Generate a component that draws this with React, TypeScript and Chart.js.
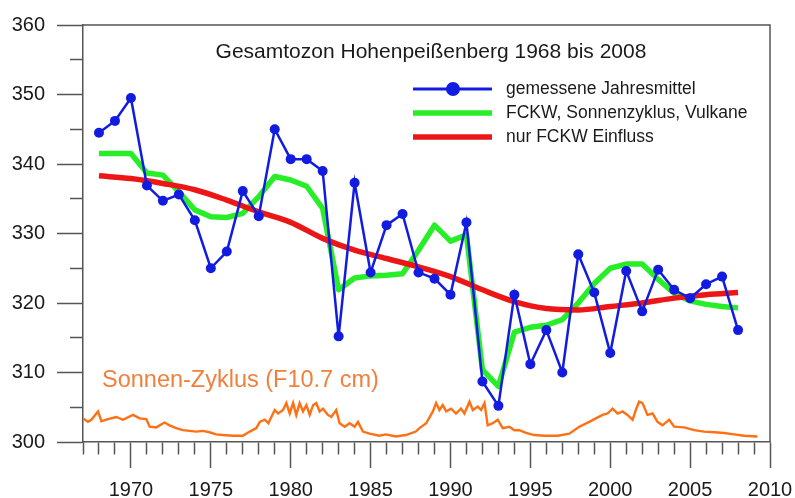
import React, { useEffect, useRef } from 'react';
import { Chart, registerables } from 'chart.js';

Chart.register(...registerables);

// ---- data ----
const years = [
  1968, 1969, 1970, 1971, 1972, 1973, 1974, 1975, 1976, 1977,
  1978, 1979, 1980, 1981, 1982, 1983, 1984, 1985, 1986, 1987,
  1988, 1989, 1990, 1991, 1992, 1993, 1994, 1995, 1996, 1997,
  1998, 1999, 2000, 2001, 2002, 2003, 2004, 2005, 2006, 2007, 2008,
];
const measured = [
  344.5, 346.2, 349.5, 336.9, 334.7, 335.6, 331.9, 325.0, 327.4, 336.1,
  332.5, 345.0, 340.7, 340.7, 339.0, 315.2, 337.3, 324.4, 331.2, 332.8,
  324.4, 323.5, 321.2, 331.6, 308.7, 305.2, 321.2, 311.2, 316.1, 310.0,
  327.0, 321.5, 312.8, 324.6, 318.8, 324.8, 321.9, 320.7, 322.7, 323.8, 316.1,
];
const modelFull = [
  341.5, 341.5, 341.5, 338.7, 338.4, 336.0, 333.4, 332.4, 332.3, 332.9,
  335.3, 338.2, 337.7, 336.8, 333.6, 321.9, 323.6, 323.9, 324.0, 324.2,
  327.6, 331.2, 328.9, 329.8, 310.4, 308.0, 315.8, 316.5, 316.8, 317.6,
  320.0, 322.8, 325.0, 325.6, 325.6, 323.4, 321.4, 320.3, 319.8, 319.5, 319.3,
];
const fckwYears = [
  1968, 1970, 1972, 1974, 1976, 1978, 1980, 1982, 1984, 1986, 1988,
  1990, 1992, 1994, 1996, 1998, 2000, 2002, 2004, 2006, 2008,
];
const fckwOnly = [
  338.3, 337.9, 337.2, 336.3, 334.8, 333.1, 331.6, 329.3, 327.6, 326.4, 325.2,
  323.8, 321.9, 320.2, 319.2, 319.0, 319.5, 320.0, 320.7, 321.2, 321.5,
];
const solarYears = [
  1967.0, 1967.31, 1967.52, 1967.94, 1968.15, 1968.56, 1969.08, 1969.5, 1970.13, 1970.54,
  1970.96, 1971.17, 1971.58, 1972.1, 1972.42, 1972.83, 1973.25, 1973.67, 1974.08, 1974.5,
  1974.92, 1975.33, 1975.75, 1976.38, 1977.0, 1977.44, 1977.85, 1978.06, 1978.38, 1978.6,
  1979.0, 1979.21, 1979.52, 1979.73, 1979.94, 1980.15, 1980.35, 1980.56, 1980.77, 1980.98,
  1981.19, 1981.4, 1981.6, 1981.81, 1982.02, 1982.33, 1982.54, 1982.85, 1983.06, 1983.38,
  1983.69, 1984.0, 1984.21, 1984.52, 1984.94, 1985.54, 1985.96, 1986.58, 1987.21, 1987.83,
  1988.06, 1988.48, 1988.9, 1989.1, 1989.31, 1989.52, 1989.73, 1990.04, 1990.35, 1990.66,
  1990.87, 1991.19, 1991.4, 1991.71, 1991.92, 1992.13, 1992.33, 1992.65, 1992.96, 1993.27,
  1993.69, 1994.0, 1994.31, 1994.73, 1995.25, 1995.88, 1996.71, 1997.44, 1998.06, 1998.69,
  1999.1, 1999.52, 1999.83, 2000.15, 2000.46, 2000.77, 2001.08, 2001.4, 2001.6, 2001.81,
  2002.02, 2002.33, 2002.65, 2002.96, 2003.27, 2003.69, 2004.0, 2004.63, 2005.25, 2005.88,
  2006.5, 2007.13, 2007.75, 2008.38, 2009.21,
];
const solarValues = [
  303.4, 302.9, 303.2, 304.4, 303.0, 303.3, 303.6, 303.2, 303.9, 303.4,
  303.3, 302.2, 302.1, 302.8, 302.4, 302.0, 301.7, 301.6, 301.5, 301.6,
  301.4, 301.1, 301.0, 300.9, 300.9, 301.5, 302.0, 302.9, 303.2, 302.7,
  304.6, 304.1, 304.6, 305.6, 304.1, 305.6, 303.9, 305.6, 304.4, 305.3,
  303.9, 305.3, 305.6, 304.4, 304.8, 303.9, 303.6, 304.6, 302.7, 302.2,
  302.7, 302.2, 302.9, 301.5, 301.2, 300.9, 301.1, 300.8, 301.0, 301.5,
  302.0, 302.7, 304.4, 305.6, 304.6, 305.3, 304.4, 304.8, 304.1, 304.8,
  304.1, 305.8, 304.6, 305.1, 304.6, 305.6, 302.4, 302.7, 303.2, 302.0,
  302.2, 301.7, 301.7, 301.3, 301.0, 300.9, 300.9, 301.2, 302.2, 302.9,
  303.4, 303.9, 304.1, 304.8, 304.1, 304.4, 303.9, 303.2, 304.6, 305.8,
  305.6, 303.9, 304.1, 302.9, 302.4, 303.2, 302.2, 302.1, 301.7, 301.5,
  301.4, 301.3, 301.1, 300.9, 300.8,
];

const xMin = 1967;
const xMax = 2010;
const yMin = 300;
const yMax = 360;

const titleText = 'Gesamtozon Hohenpeißenberg 1968 bis 2008';
const legendLabels = ['gemessene Jahresmittel', 'FCKW, Sonnenzyklus, Vulkane', 'nur FCKW Einfluss'];
const solarLabel = 'Sonnen-Zyklus (F10.7 cm)';

// ---- styles ----
const FONT = "'Liberation Sans', Arial, sans-serif";
const AXIS = '#555555';
const TEXT = '#1a1a1a';
const BLUE = 'rgb(18, 28, 225)';
const GREEN = 'rgb(40, 238, 40)';
const RED = 'rgb(236, 22, 22)';
const ORANGE = 'rgb(255, 112, 20)';
const ORANGE_TEXT = 'rgb(240, 128, 60)';

const toXY = (xs: number[], ys: number[]) => xs.map((x, i) => ({ x, y: ys[i] }));

const decorPlugin = {
  id: 'decor',
  afterDraw(chart: any) {
    const { ctx, chartArea: a } = chart;
    ctx.save();
    // frame top + right
    ctx.strokeStyle = AXIS;
    ctx.lineWidth = 1.5;
    ctx.beginPath();
    ctx.moveTo(a.left, a.top);
    ctx.lineTo(a.right, a.top);
    ctx.lineTo(a.right, a.bottom);
    ctx.stroke();

    // title
    ctx.fillStyle = TEXT;
    ctx.font = `21px ${FONT}`;
    ctx.textAlign = 'center';
    ctx.textBaseline = 'middle';
    ctx.fillText(titleText, a.left + 348, a.top + 27);

    // legend
    const lx = a.left + 330;
    const lw = 79;
    const tx = a.left + 423;
    const rows = [a.top + 64, a.top + 88, a.top + 112];
    const colors = [BLUE, GREEN, RED];
    const widths = [3, 5.5, 5.5];
    ctx.font = `17.5px ${FONT}`;
    ctx.textAlign = 'left';
    rows.forEach((ry, i) => {
      ctx.strokeStyle = colors[i];
      ctx.lineWidth = widths[i];
      ctx.beginPath();
      ctx.moveTo(lx, ry);
      ctx.lineTo(lx + lw, ry);
      ctx.stroke();
      if (i === 0) {
        ctx.fillStyle = BLUE;
        ctx.beginPath();
        ctx.arc(lx + 40, ry, 7, 0, Math.PI * 2);
        ctx.fill();
      }
      ctx.fillStyle = TEXT;
      ctx.fillText(legendLabels[i], tx, ry);
    });

    // solar cycle label
    ctx.fillStyle = ORANGE_TEXT;
    ctx.font = `23.5px ${FONT}`;
    ctx.textAlign = 'left';
    ctx.textBaseline = 'middle';
    ctx.fillText(solarLabel, a.left + 19, chart.scales.y.getPixelForValue(308.8));
    ctx.restore();
  },
};

export default function App() {
  const ref = useRef<HTMLCanvasElement | null>(null);

  useEffect(() => {
    if (!ref.current) return;
    const chart = new Chart(ref.current, {
      type: 'line',
      data: {
        datasets: [
          {
            label: legendLabels[0],
            data: toXY(years, measured),
            borderColor: BLUE,
            backgroundColor: BLUE,
            borderWidth: 2.5,
            pointRadius: 5,
            pointBackgroundColor: BLUE,
            pointBorderWidth: 0,
            tension: 0,
            order: 0,
          },
          {
            label: legendLabels[2],
            data: toXY(fckwYears, fckwOnly),
            borderColor: RED,
            borderWidth: 5.5,
            pointRadius: 0,
            cubicInterpolationMode: 'monotone',
            order: 1,
          },
          {
            label: legendLabels[1],
            data: toXY(years, modelFull),
            borderColor: GREEN,
            borderWidth: 5.5,
            pointRadius: 0,
            tension: 0,
            borderJoinStyle: 'round',
            order: 2,
          },
          {
            label: solarLabel,
            data: toXY(solarYears, solarValues),
            borderColor: ORANGE,
            borderWidth: 2.4,
            pointRadius: 0,
            tension: 0,
            order: 3,
          },
        ],
      },
      options: {
        animation: false,
        responsive: true,
        maintainAspectRatio: false,
        layout: { padding: { top: 25, right: 25, left: 0, bottom: 0 } },
        plugins: {
          legend: { display: false },
          title: { display: false },
          tooltip: { enabled: false },
        },
        scales: {
          x: {
            type: 'linear',
            min: xMin,
            max: xMax,
            afterFit: (s: any) => {
              s.height = 56;
              s.paddingLeft = 0;
              s.paddingRight = 0;
            },
            border: { color: AXIS, width: 1.5 },
            grid: {
              drawOnChartArea: false,
              drawTicks: true,
              tickLength: 26,
              tickWidth: 1.5,
              tickColor: AXIS,
              tickBorderDash: (c: any) => (c.tick && c.tick.value % 5 === 0 ? [] : [12, 100]),
            },
            ticks: {
              stepSize: 1,
              autoSkip: false,
              maxRotation: 0,
              minRotation: 0,
              padding: 10,
              color: TEXT,
              font: { family: FONT, size: 20 },
              callback: (v: any) => (Number(v) % 5 === 0 ? String(v) : ''),
            },
          },
          y: {
            min: yMin,
            max: yMax,
            afterFit: (s: any) => {
              s.width = 83;
              s.paddingTop = 0;
              s.paddingBottom = 0;
            },
            border: { color: AXIS, width: 1.5 },
            grid: {
              drawOnChartArea: false,
              drawTicks: true,
              tickLength: 26,
              tickWidth: 1.5,
              tickColor: AXIS,
              tickBorderDash: (c: any) => (c.tick && c.tick.value % 10 === 0 ? [] : [0, 13, 13, 100]),
            },
            ticks: {
              stepSize: 5,
              padding: 12,
              color: TEXT,
              font: { family: FONT, size: 20 },
              callback: (v: any) => (Number(v) % 10 === 0 ? String(v) : ''),
            },
          },
        },
      },
      plugins: [decorPlugin],
    } as any);
    return () => chart.destroy();
  }, []);

  return (
    <div style={{ position: 'absolute', left: 0, top: 0, width: 795, height: 498 }}>
      <canvas ref={ref} />
    </div>
  );
}
